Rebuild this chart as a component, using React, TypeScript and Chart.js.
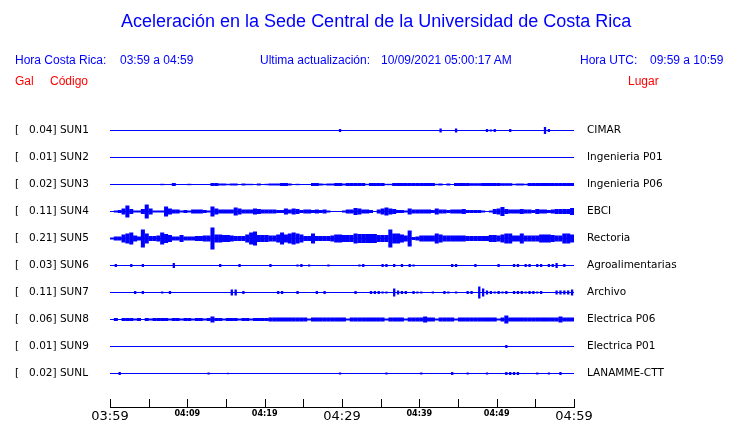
import React, { useEffect, useRef } from 'react';
import { Chart, registerables } from 'chart.js';

Chart.register(...registerables);

// ---- data ----
const START_MIN = 0;
const END_MIN = 60;
const BIN_MIN = 0.5; // each amplitude value covers half a minute

const CODES = ['SUN1', 'SUN2', 'SUN3', 'SUN4', 'SUN5', 'SUN6', 'SUN7', 'SUN8', 'SUN9', 'SUNL'];
const PEAKS = ['0.04', '0.01', '0.02', '0.11', '0.21', '0.03', '0.11', '0.06', '0.01', '0.02'];
const PLACES = ['CIMAR', 'Ingenieria P01', 'Ingenieria P06', 'EBCI', 'Rectoria', 'Agroalimentarias', 'Archivo', 'Electrica P06', 'Electrica P01', 'LANAMME-CTT'];

const TICK_MINUTES = [0, 5, 10, 15, 20, 25, 30, 35, 40, 45, 50, 55, 60];
const TICK_LABELS = ['03:59', '', '04:09', '', '04:19', '', '04:29', '', '04:39', '', '04:49', '', '04:59'];
const MAJOR_TICKS = ['03:59', '04:29', '04:59'];

// envelope half-amplitudes (relative units) per half-minute bin
const SUN1 = [
  0,0,0,0,0,0,0,0,0,0,0,0,0,0,0,0,0,0,0,0,
  0,0,0,0,0,0,0,0,0,0,0,0,0,0,0,0,0,0,0,0,
  0,0,0,0,0,0,0,0,0,0,0,0,0,0,0,0,0,0,0,1.5,
  0,0,0,0,0,0.5,0,0,0,0,0,0,0,0,0,0,0,0,0,0,
  0,0,0,0,0,2,0,0,0,2,0,0,0,0,0,0,0,1.5,1,1.5,
  0,0,0,1.5,0,0,0,0,0,0,0,0,3.5,1.5,0,0,0,0,0,0,
];
const SUN2 = [
  0,0,0,0,0,0,0,0,0,0,0,0,0,0,0,0,0,0,0,0,
  0,0,0,0,0,0,0,0,0,0,0,0,0,0,0,0,0,0,0,0,
  0,0,0,0,0,0,0,0,0,0,0,0,0,0,0,0,0,0,0,0,
  0,0,0,0,0,0,0,0,0,0,0,0,0,0,0,0,0,0,0,0,
  0,0,0,0,0,0,0,0,0,0,0,0,0,0,0,0,0,0,0,0,
  0,0,0,0,0,0,0,0,0,0,0,0,0,0,0,0,0,0,0,0,
];
const SUN3 = [
  0,0,0,0,0,0,0,0,0,0,0,0,0,0.7,0,0,1.5,0,0,0,
  0.7,0,0,0,0,0,1.5,1.5,1,1,0.7,1,1,0,1,0.7,0.7,0,1,0,
  0.7,1,1,1,1.5,1.5,1,0,0.7,0,0,0,1.5,1.5,1,0.7,1,1,1.5,1.5,
  1,1.5,1.5,1.5,1.5,1.5,0.7,1.5,1.5,1.5,1.5,0.7,0.7,1.5,1.5,1.5,1.5,1.5,1.5,1.5,
  1.5,1.5,1.5,1.5,0.7,1,0,1,0,1.5,1.5,1.5,1.5,1.3,1.3,1.3,1.5,1.5,1.5,1.5,
  1.5,1.3,1.3,1.3,0.7,1,1,0.7,1.5,1.5,1.5,1.5,1.5,1.5,1.5,1.5,1.5,1.5,1.5,1.5,
];
const SUN4 = [
  0.5,1,1.5,3,6,2.5,1,1,2.5,7,3,1,1,1,5,3,2,2,1,1.5,
  1,2,2,2,1.5,1,5,3,2,2,2,2,4,3,2,2,2,3,2.5,2,
  2,2,2,1.5,1.5,3,2,3,2.5,1.5,2,2,1.5,2,1.5,2,1,0.5,0.5,0.5,
  1,2,2,3.5,3,2,2,1.5,0.5,2,3,4,3,2.5,1.5,1.5,1,3,2,2,
  2,2,2,1.5,3,2,2,1.5,2,2,2,2.5,1.5,1.5,1.5,1.5,1,0.5,1,2.5,
  3,4.5,2.5,2,2,2,2.5,2,2,1.5,2.5,2,2,1.5,2,2.5,2.5,2.5,2.5,3.5,
];
const SUN5 = [
  1,2,2,4,5,6,3,2,9,5,2.5,2.5,3,6,4.5,3.5,2,2,3.5,2,
  2,2,2.5,2.5,3,3,11,4,4,3.5,3.5,3,2.5,2.5,2.5,4,6,7,3.5,3.5,
  3.5,3,3,4,6,4,5,6,5,4,2.5,2.5,5,2.5,2.5,2.5,2.5,3,4,4,
  3.5,3.5,3.5,5,4.5,4.5,4.5,4.5,4.5,3.5,3.5,3.5,9,5,5,4,3,8,1.5,2,
  3,3,3,3,5,4,3,3,3,3,3,3,2.5,2.5,2.5,2.5,2.5,2.5,3.5,3.5,
  3,4,5,5,3,3,5,3,3,3,3,4,4,4,3.5,3,3,5,5,4,
];
const SUN6 = [
  0,1.5,0,0,0,1.5,0,0,1.5,0,0,0,0,0.5,0,0,2.5,0,0,0,
  0,0,0,0,0,0,0,0,1.5,0,0,0,0,1.5,0,0,0,0,0,0,
  0,1.5,0,0,0,0,0,0,1,1.5,0,1,0,0,0,0,1,0,0.5,0,
  0,0.5,0,0,1,1.5,0,0,0,0,1.5,1.5,0,1.5,0,1.5,0,1.5,1,0,
  0,0,0,0,0,0,0,0,1.5,1.5,0,0,0,0,1.5,0,0,0,0,0,
  1.5,0,0,0,1.5,1.5,0,1.5,1.5,0,1.5,1.5,0,1.5,1.5,2.5,0,1.5,0,0,
];
const SUN7 = [
  0,0,0,0,0,0,1.5,0,1.5,0,0,0,0,1,0,1.5,0,0,0,0,
  0,0,0,0,0,0,0,0,0,0,0,3,3,0,1.5,0,0,0,0,0,
  0,0,0,1.5,1.5,0,0,0,1.5,0,0,0,0,1.5,0,1.5,0,0,0,0,
  0,0,0,1.5,0,0.5,0.5,1.5,1.5,1.5,1,1,0,4,2,1.5,1.5,0,1.5,1,
  1,0.5,0,1,0,0,1.5,1,0,1,0,0,1.5,1.5,0,6,4,2,1.5,1,
  1.5,1,1.5,0,1.5,1.5,1.5,1,1.5,1.5,1,1.5,0,0,0,2,2,2,2,3,
];
const SUN8 = [
  0.5,1.5,0,1.5,1.5,1.5,1,1.5,0.5,1.5,1,1.5,1.5,1.5,1.5,1,1.5,1.5,1,1.5,
  1.5,1,1.5,1.5,1,1.5,3,1.5,1.5,1,1.5,1.5,1.5,1,1.5,1.5,1,1.5,1.5,1.5,
  1.5,2,2,2,2,2,2,2,2,2,2,1,2,2,2,2,2,2,2,2,
  2,1,2,2,2,2,2,2,2,2,2,1,2,2,2,2,1,2,2,2,
  2,3,2,2,1,2,2,2,2,1,2,2,2,2,2,2,2,2,2,2,
  1,2,4,2,2,2,2,2,2,2,2,2,2,2,2,2,3,2,2,2,
];
const SUN9 = [
  0,0,0,0,0,0,0,0,0,0,0,0,0,0,0,0,0,0,0,0,
  0,0,0,0,0,0,0,0,0,0,0,0,0,0,0,0,0,0,0,0,
  0,0,0,0,0,0,0,0,0,0,0,0,0,0,0,0,0,0,0,0,
  0,0,0,0,0,0,0,0,0,0,0,0,0,0,0,0,0,0,0,0,
  0,0,0,0,0,0,0,0,0,0,0,0,0,0,0,0,0,0,0,0,
  0,0,1.5,0,0,0,0,0,0,0,0,0,0,0,0,0,0,0,0,0,
];
const SUNL = [
  0,0,1.5,0,0,0,0,0,0,0,0,0,0,0,0,0,0,0,0,0,
  0,0,0,0,0,1,0,0,0,0,0.7,0,0,0,0,0,0,0,0,0,
  0,0,0,0,0,0,0,0,0,0,0,0,0,0,0,0,0,0,0,1,
  0,0,0,0,0,0,0,0,0,0,0,1,0,0,0,0,0,0,0,0,
  1,0,0,0,0,0,0,0,1.5,0,0,0,1,0,0,0,0,1,0,0,
  0,0,1.5,1.5,1.5,1.5,0,0,0,0,1,0,0.5,1,0,0,1.5,0,0,0,
];
const TRACES = [SUN1, SUN2, SUN3, SUN4, SUN5, SUN6, SUN7, SUN8, SUN9, SUNL];
const DENSE = [false, false, true, true, true, false, false, true, false, false];

// ---- display settings ----
const BLUE = '#0000ff';
const RED = '#ff0000';
const ROW_PX = 27;
const AREA_TOP = 117;
const AXIS_Y = 407;
const Y_MIN = -0.5;
const Y_MAX = Y_MIN + (AXIS_Y - AREA_TOP) / ROW_PX;
const GAIN = 1 / ROW_PX;
const LABEL_FONT = "'DejaVu Sans', sans-serif";

const tickMarks = {
  id: 'tickMarks',
  afterDraw(chart: any) {
    const s = chart.scales.x;
    const ctx = chart.ctx;
    ctx.save();
    ctx.strokeStyle = '#000';
    ctx.lineWidth = 1;
    ctx.beginPath();
    s.ticks.forEach((t: any) => {
      const px = Math.round(s.getPixelForValue(t.value)) + 0.5;
      ctx.moveTo(px, Math.round(s.top) + 1);
      ctx.lineTo(px, Math.round(s.top) - 8);
    });
    ctx.stroke();
    ctx.restore();
  },
};

export default function App() {
  const ref = useRef<HTMLCanvasElement | null>(null);

  useEffect(() => {
    if (!ref.current) return;
    const datasets: any[] = [];
    TRACES.forEach((amps, i) => {
      datasets.push({
        type: 'line',
        data: [{ x: START_MIN, y: i }, { x: END_MIN, y: i }],
        borderColor: BLUE,
        borderWidth: 1,
        pointRadius: 0,
        xAxisID: 'x',
        yAxisID: 'y',
      });
      datasets.push({
        type: 'bar',
        data: amps
          .map((a, k) => (a > 0 ? { x: (k + 0.5) * BIN_MIN, y: [i - a * GAIN, i + a * GAIN] } : null))
          .filter((d) => d !== null),
        backgroundColor: BLUE,
        borderWidth: 0,
        grouped: false,
        barPercentage: DENSE[i] ? 1.05 : 0.6,
        categoryPercentage: 1,
        xAxisID: 'x',
        yAxisID: 'y',
      });
    });
    // invisible full-bin dataset so every trace shares the same bin width
    datasets.push({
      type: 'bar',
      data: SUN4.map((_, k) => ({ x: (k + 0.5) * BIN_MIN, y: null })),
      backgroundColor: 'transparent',
      grouped: false,
      barPercentage: 1,
      categoryPercentage: 1,
      xAxisID: 'x',
      yAxisID: 'y',
    });

    const rowTicks = (scale: any) => {
      scale.ticks = CODES.map((_, i) => ({ value: i }));
    };
    const fitSide = (w: number) => (scale: any) => {
      scale.width = w;
      scale.paddingTop = 0;
      scale.paddingBottom = 0;
    };

    const chart = new Chart(ref.current, {
      type: 'bar',
      data: { datasets },
      plugins: [tickMarks],
      options: {
        responsive: false,
        animation: false,
        events: [],
        layout: { padding: { top: AREA_TOP, left: 15, right: 0, bottom: 0 } },
        plugins: { legend: { display: false }, tooltip: { enabled: false }, title: { display: false } },
        scales: {
          x: {
            type: 'linear',
            min: START_MIN,
            max: END_MIN,
            offset: false,
            grid: { display: false, drawTicks: false },
            border: { display: true, color: '#000', width: 1 },
            afterBuildTicks: (scale: any) => {
              scale.ticks = TICK_MINUTES.map((v) => ({ value: v }));
            },
            afterFit: (scale: any) => {
              scale.height = 423 - AXIS_Y;
            },
            ticks: {
              autoSkip: false,
              maxRotation: 0,
              padding: 1.5,
              color: '#000',
              callback: (_v: any, idx: number) => TICK_LABELS[idx],
              font: (ctx: any) =>
                MAJOR_TICKS.includes(TICK_LABELS[ctx.index])
                  ? { family: LABEL_FONT, size: 13 }
                  : { family: "'DejaVu Sans Condensed', 'DejaVu Sans', sans-serif", size: 9, weight: 'bold' },
            },
          },
          y: {
            type: 'linear',
            position: 'left',
            reverse: true,
            min: Y_MIN,
            max: Y_MAX,
            grid: { display: false, drawTicks: false },
            border: { display: false },
            afterBuildTicks: rowTicks,
            afterFit: fitSide(95),
            ticks: {
              crossAlign: 'far',
              color: '#000',
              font: { family: LABEL_FONT, size: 10.5 },
              callback: (_v: any, idx: number) => '[   ' + PEAKS[idx] + '] ' + CODES[idx],
            },
          },
          y2: {
            type: 'linear',
            position: 'right',
            reverse: true,
            min: Y_MIN,
            max: Y_MAX,
            grid: { display: false, drawTicks: false },
            border: { display: false },
            afterBuildTicks: rowTicks,
            afterFit: fitSide(166),
            ticks: {
              crossAlign: 'near',
              padding: 13,
              color: '#000',
              font: { family: LABEL_FONT, size: 10.5 },
              callback: (_v: any, idx: number) => PLACES[idx],
            },
          },
        },
      } as any,
    });
    return () => chart.destroy();
  }, []);

  const txt = (s: string, left: number, top: number, size: number, color: string) => (
    <span
      style={{
        position: 'absolute',
        left,
        top,
        fontSize: size,
        lineHeight: size + 'px',
        color,
        whiteSpace: 'pre',
      }}
    >
      {s}
    </span>
  );

  return (
    <div style={{ position: 'absolute', left: 0, top: 0, width: 740, height: 423, background: '#fff', fontFamily: "'Liberation Sans', Arial, sans-serif" }}>
      <canvas ref={ref} width={740} height={423} style={{ position: 'absolute', left: 0, top: 0 }} />
      {txt('Aceleración en la Sede Central de la Universidad de Costa Rica', 121, 12, 18, BLUE)}
      {txt('Hora Costa Rica:', 15, 54, 12, BLUE)}
      {txt('03:59 a 04:59', 120, 54, 12, BLUE)}
      {txt('Ultima actualización:', 260, 54, 12, BLUE)}
      {txt('10/09/2021 05:00:17 AM', 381, 54, 12, BLUE)}
      {txt('Hora UTC:', 580, 54, 12, BLUE)}
      {txt('09:59 a 10:59', 650, 54, 12, BLUE)}
      {txt('Gal', 15, 75, 12, RED)}
      {txt('Código', 50, 75, 12, RED)}
      {txt('Lugar', 628, 75, 12, RED)}
    </div>
  );
}
